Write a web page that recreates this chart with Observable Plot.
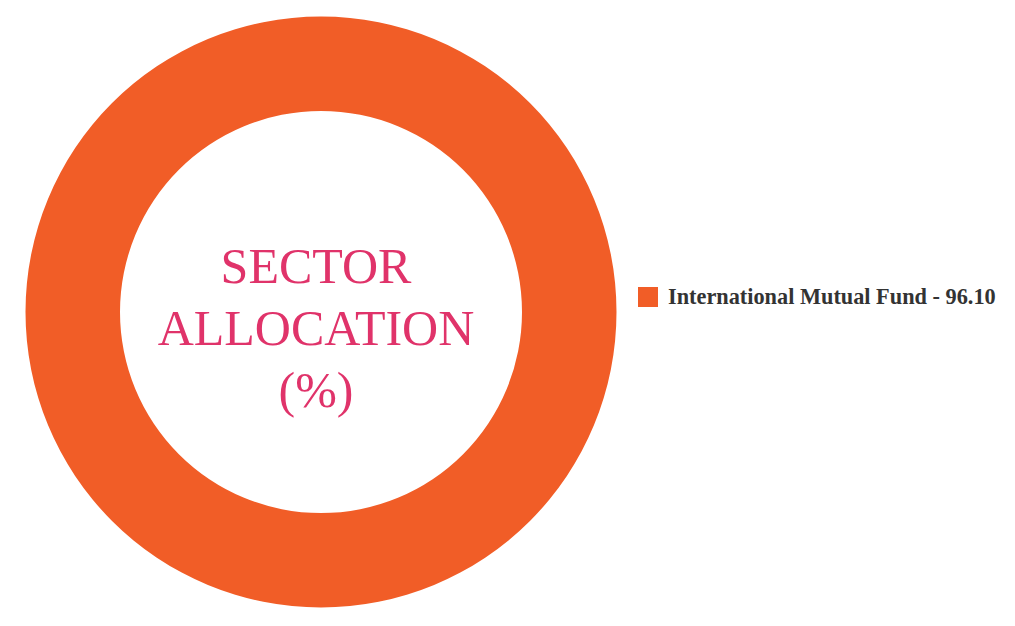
<!DOCTYPE html>
<html>
<head>
<meta charset="utf-8">
<script src="https://cdn.jsdelivr.net/npm/d3@7"></script>
<script src="https://cdn.jsdelivr.net/npm/@observablehq/plot@0.6"></script>
<style>
  html, body { margin: 0; padding: 0; background: #fff; }
  #wrap { position: relative; width: 1015px; height: 626px; }
  #legend { position: absolute; left: 638px; top: 284px; display: flex; align-items: center;
    font-family: "Liberation Serif", "Times New Roman", serif; font-weight: bold; font-size: 22.3px; color: #333; }
  #legend .sw { width: 20px; height: 20px; margin-right: 10px; }
</style>
</head>
<body>
<div id="wrap"></div>
<script>
const categories = ["International Mutual Fund"];
const values = [96.10];
const colors = ["#f15d27"];
const centerLabel = ["SECTOR", "ALLOCATION", "(%)"];

const color = Plot.scale({color: {type: "ordinal", domain: categories, range: colors}});
const data = categories.map((c, i) => ({category: c, value: values[i]}));

const cx = 321, cy = 312, outerR = 295.5, innerR = 201;

function donut(index, scales, vals, dimensions) {
  const g = d3.create("svg:g");
  const arcs = d3.pie().sort(null).value(d => d.value)(data);
  const arc = d3.arc().innerRadius(innerR).outerRadius(outerR);
  g.append("g").attr("transform", `translate(${cx},${cy})`)
    .selectAll("path").data(arcs).join("path")
    .attr("d", arc)
    .attr("fill", d => color.apply(d.data.category));
  const t = g.append("text")
    .attr("text-anchor", "middle")
    .attr("font-family", "'Liberation Serif', 'Times New Roman', serif")
    .attr("font-size", 50)
    .attr("fill", "#e0336a");
  centerLabel.forEach((s, i) => {
    t.append("tspan").attr("x", cx - 5).attr("y", cy - 29.5 + i * 62).text(s);
  });
  return g.node();
}

const chart = Plot.plot({
  width: 1015,
  height: 626,
  margin: 0,
  style: {background: "#fff"},
  marks: [donut]
});
const wrap = document.getElementById("wrap");
wrap.appendChild(chart);

const legend = document.createElement("div");
legend.id = "legend";
data.forEach(d => {
  const sw = document.createElement("div");
  sw.className = "sw";
  sw.style.background = color.apply(d.category);
  const lab = document.createElement("span");
  lab.textContent = `${d.category} - ${d.value.toFixed(2)}`;
  legend.appendChild(sw);
  legend.appendChild(lab);
});
wrap.appendChild(legend);
</script>
</body>
</html>
